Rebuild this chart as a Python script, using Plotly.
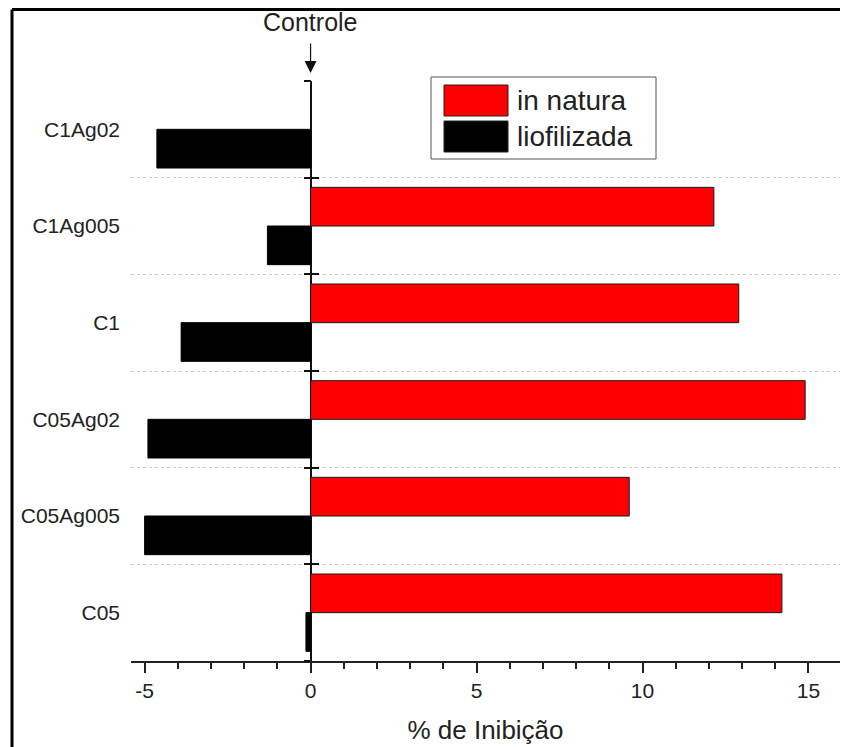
import plotly.graph_objects as go

categories = ["C05", "C05Ag005", "C05Ag02", "C1", "C1Ag005", "C1Ag02"]
in_natura = [14.2, 9.6, 14.9, 12.9, 12.15, None]
liofilizada = [-0.14, -5.0, -4.9, -3.9, -1.3, -4.63]
series_names = ["in natura", "liofilizada"]
x_ticks = [-5, 0, 5, 10, 15]
x_title = "% de Inibição"
control_label = "Controle"

FONT = "Liberation Sans, Arial, sans-serif"
W, H = 842, 747
ML, MR, MT, MB = 131, 2, 81, 86
PW, PH = W - ML - MR, H - MT - MB
XMIN, XMAX = -5.41, 15.95

def px_x(p):
    return (p - ML) / PW

def px_y(p):
    return 1 - (p - MT) / PH

fig = go.Figure()
fig.add_trace(go.Bar(
    y=categories, x=liofilizada, orientation="h", name=series_names[1],
    marker=dict(color="#000000", line=dict(color="#000000", width=1)),
    showlegend=False,
))
fig.add_trace(go.Bar(
    y=categories, x=in_natura, orientation="h", name=series_names[0],
    marker=dict(color="#FF0000", line=dict(color="#1a1a1a", width=1)),
    showlegend=False,
))

n = len(categories)
bounds = [i - 0.5 for i in range(n + 1)]
zero_pos = (0 - XMIN) / (XMAX - XMIN)

fig.update_layout(
    width=W, height=H,
    margin=dict(l=ML, r=MR, t=MT, b=MB),
    paper_bgcolor="white", plot_bgcolor="white",
    barmode="group", bargap=0.2, bargroupgap=0,
    font=dict(family=FONT, color="#222222", size=21),
    xaxis=dict(
        range=[XMIN, XMAX], tickvals=x_ticks, ticktext=[str(t) for t in x_ticks],
        showline=True, linecolor="#222222", linewidth=2,
        ticks="outside", ticklen=10, tickwidth=2, tickcolor="#222222",
        minor=dict(dtick=1, tick0=0, ticks="outside", ticklen=6, tickwidth=2, tickcolor="#222222", showgrid=False),
        showgrid=False, zeroline=True, zerolinecolor="#111111", zerolinewidth=2,
        tickfont=dict(size=21, family=FONT, color="#222222"),
        title=dict(text=x_title, font=dict(size=26, family=FONT, color="#222222"), standoff=20),
    ),
    yaxis=dict(
        type="category", categoryorder="array", categoryarray=categories,
        range=[-0.5, n - 0.5], showline=False, showgrid=False, zeroline=False,
        ticks="", ticklabelstandoff=10,
        tickfont=dict(size=21, family=FONT, color="#222222"),
    ),
    yaxis2=dict(
        overlaying="y", anchor="free", position=zero_pos, side="left",
        range=[-0.5, n - 0.5], tickvals=bounds, showticklabels=False,
        ticks="outside", ticklen=7, tickwidth=2, tickcolor="#111111",
        showline=False, showgrid=False, zeroline=False,
    ),
    yaxis3=dict(
        overlaying="y", anchor="free", position=zero_pos, side="left",
        range=[-0.5, n - 0.5], tickvals=bounds, showticklabels=False,
        ticks="inside", ticklen=7, tickwidth=2, tickcolor="#111111",
        showline=False, showgrid=False, zeroline=False,
    ),
    yaxis4=dict(
        overlaying="y", anchor="x", side="left",
        range=[-0.5, n - 0.5], tickvals=bounds[1:-1], showticklabels=False,
        ticks="", showline=False, zeroline=False,
        showgrid=True, gridcolor="#c8c8c8", gridwidth=1, griddash="dot",
    ),
    showlegend=False,
)

for ax in ["y2", "y3", "y4"]:
    fig.add_trace(go.Scatter(x=[None], y=[None], yaxis=ax, showlegend=False, hoverinfo="skip"))

fig.add_annotation(
    x=0, xref="x", y=px_y(73), yref="paper",
    text=control_label, showarrow=True, ax=0, ay=-51,
    arrowhead=2, arrowsize=2, arrowwidth=1.2, arrowcolor="#111111",
    startstandoff=6, font=dict(size=25, family=FONT, color="#222222"),
)

fig.add_shape(type="rect", xref="paper", yref="paper",
              x0=px_x(431), x1=px_x(656), y0=px_y(159), y1=px_y(77),
              line=dict(color="#555555", width=1), fillcolor="white", layer="above")
swatches = [("#FF0000", 85, 116), ("#000000", 121, 152)]
for name, (col, t, b) in zip(series_names, swatches):
    fig.add_shape(type="rect", xref="paper", yref="paper",
                  x0=px_x(444), x1=px_x(508), y0=px_y(b), y1=px_y(t),
                  line=dict(color="#222222", width=1), fillcolor=col, layer="above")
    fig.add_annotation(x=px_x(515), y=px_y((t + b) / 2), xref="paper", yref="paper",
                       text=name, showarrow=False, xanchor="left", yanchor="middle",
                       font=dict(size=28, family=FONT, color="#222222"))

fig.add_shape(type="line", xref="paper", yref="paper",
              x0=px_x(12), x1=px_x(12), y0=px_y(747), y1=px_y(9.5),
              line=dict(color="black", width=3), layer="above")
fig.add_shape(type="line", xref="paper", yref="paper",
              x0=px_x(12), x1=px_x(840), y0=px_y(9.5), y1=px_y(9.5),
              line=dict(color="black", width=3), layer="above")

fig.write_html("out.html", config={"displayModeBar": False})
